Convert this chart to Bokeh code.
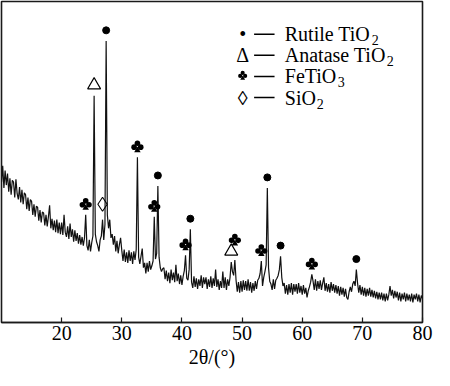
import numpy as np
from bokeh.plotting import figure
from bokeh.models import FixedTicker, Range1d
from bokeh.core.properties import value
from bokeh.embed import file_html
from bokeh.resources import INLINE

# ---------------- data ----------------
two_theta_start = 10.0
two_theta_step = 0.2
intensity = [
    146, 163, 140, 158, 143,   # 10
    155, 136, 150, 133, 148,   # 11
    146, 130, 149, 134, 128,   # 12
    141, 125, 138, 123, 135,   # 13
    133, 118, 130, 116, 128,   # 14
    126, 112, 123, 110, 121,   # 15
    120, 106, 117, 104, 115,   # 16
    114, 101, 112, 100, 110,   # 17
    122, 98, 108, 96, 106,     # 18
    94, 107, 93, 104, 92,      # 19
    104, 91, 112, 94, 89,      # 20
    100, 87, 103, 89, 97,      # 21
    84, 96, 85, 93, 82,        # 22
    91, 81, 89, 80, 88,        # 23
    112, 80, 75, 86, 74,       # 24
    83, 90, 236, 92, 84,       # 25
    80, 74, 86, 90, 107,       # 26
    86, 102, 293, 112, 98,     # 27
    107, 88, 92, 81, 90,       # 28
    74, 85, 72, 81, 88,        # 29
    75, 64, 76, 63, 73,        # 30
    62, 75, 64, 73, 61,        # 31
    74, 65, 76, 172, 68,       # 32
    61, 69, 77, 57, 62,        # 33
    51, 62, 53, 64, 55,        # 34
    59, 64, 110, 66, 72,       # 35
    142, 68, 57, 53, 56,       # 36
    57, 45, 54, 43, 52,        # 37
    41, 55, 44, 52, 42,        # 38
    60, 43, 51, 40, 49,        # 39
    39, 48, 54, 70, 46,        # 40
    44, 55, 97, 42, 36,        # 41
    48, 37, 46, 35, 45,        # 42
    38, 49, 36, 47, 40,        # 43
    47, 35, 45, 37, 48,        # 44
    36, 46, 38, 55, 37,        # 45
    45, 34, 43, 36, 53,        # 46
    36, 47, 34, 45, 38,        # 47
    47, 63, 53, 49, 65,        # 48
    44, 32, 42, 31, 43,        # 49
    32, 44, 34, 43, 33,        # 50
    45, 33, 42, 31, 41,        # 51
    33, 43, 35, 44, 46,        # 52
    51, 64, 38, 47, 53,        # 53
    60, 140, 57, 43, 40,       # 54
    34, 45, 35, 44, 46,        # 55
    49, 55, 69, 47, 38,        # 56
    41, 30, 39, 29, 40,        # 57
    31, 41, 29, 40, 32,        # 58
    40, 30, 41, 31, 38,        # 59
    29, 39, 30, 36, 26,        # 60
    33, 37, 42, 50, 43,        # 61
    34, 45, 33, 43, 35,        # 62
    44, 34, 41, 47, 33,        # 63
    41, 32, 40, 31, 42,        # 64
    33, 40, 31, 39, 30,        # 65
    38, 28, 37, 29, 36,        # 66
    27, 35, 26, 24, 32,        # 67
    37, 32, 40, 43, 38,        # 68
    55, 41, 31, 39, 29,        # 69
    37, 28, 36, 27, 35,        # 70
    28, 36, 27, 34, 26,        # 71
    33, 25, 32, 24, 31,        # 72
    24, 31, 23, 30, 22,        # 73
    30, 23, 29, 38, 28,        # 74
    34, 25, 33, 26, 32,        # 75
    23, 31, 22, 30, 24,        # 76
    31, 22, 30, 23, 29,        # 77
    22, 30, 21, 29, 24,        # 78
    30, 22, 29, 21, 28,        # 79
    25,                        # 80
]

rutile_peaks = [27.4, 36.0, 41.4, 54.2, 56.4, 69.0]
anatase_peaks = [25.4, 48.2]
fetio3_peaks = [24.0, 32.6, 35.4, 40.6, 48.8, 53.2, 61.6]
sio2_peaks = [26.8]

legend_symbols = ["\u2022", "\u0394", "", "\u25CA"]
legend_names = ["Rutile TiO", "Anatase TiO", "FeTiO", "SiO"]
legend_subs = ["2", "2", "3", "2"]

x_ticks = [20, 30, 40, 50, 60, 70, 80]
x_label = "2\u03B8/(\u00B0)"

# ---------------- figure ----------------
two_theta = np.round(two_theta_start + two_theta_step * np.arange(len(intensity)), 1)
inten = np.array(intensity, dtype=float)


def height_at(pos):
    return inten[int(round((pos - two_theta_start) / two_theta_step))]


SERIF = "Liberation Serif"
GAP = 11  # marker gap above peak top, data units

W, H = 434, 370
BL, BR, BT = 1, 12, 1
X0, X1, Y0, Y1 = 10, 80, 0, 334
FRAME_W = W - BL - BR
FRAME_H = 313
UX = (X1 - X0) / FRAME_W   # data units per screen px (x)
UY = (Y1 - Y0) / FRAME_H   # data units per screen px (y)

p = figure(width=W, height=H, output_backend="svg", toolbar_location=None,
           x_range=Range1d(X0, X1), y_range=Range1d(Y0, Y1))
p.min_border_left = BL
p.min_border_right = BR
p.min_border_top = BT
p.background_fill_color = "white"
p.border_fill_color = "white"
p.outline_line_color = "#1a1a1a"
p.outline_line_width = 1.6
p.grid.visible = False
p.yaxis.visible = False

ax = p.xaxis[0]
ax.ticker = FixedTicker(ticks=x_ticks)
ax.major_tick_in = 5
ax.major_tick_out = 0
ax.minor_tick_line_color = None
ax.axis_line_width = 1.6
ax.axis_line_color = "#1a1a1a"
ax.major_tick_line_width = 1.2
ax.major_tick_line_color = "#1a1a1a"
ax.major_label_text_font = SERIF
ax.major_label_text_font_size = "20px"
ax.major_label_text_color = "black"
ax.major_label_standoff = 3
ax.axis_label = x_label
ax.axis_label_text_font = SERIF
ax.axis_label_text_font_size = "20px"
ax.axis_label_text_font_style = "normal"
ax.axis_label_text_color = "black"
ax.axis_label_standoff = 3

# curve
p.line(two_theta, inten, line_color="#111111", line_width=1.2)


def draw_clubs(xs, ys, scale):
    """club symbol built from three discs and a stem (screen-px offsets)."""
    d = 5.6 * scale
    lobes = [(0.0, 3.3), (-3.3, -0.5), (3.3, -0.5)]
    for ox, oy in lobes:
        p.scatter([x + ox * scale * UX for x in xs], [y + oy * scale * UY for y in ys],
                  marker="circle", size=d, fill_color="black", line_color=None)
    p.scatter([x for x in xs], [y - 3.6 * scale * UY for y in ys],
              marker="triangle", size=6.5 * scale, fill_color="black", line_color=None)


# peak markers
ry = [height_at(v) + GAP for v in rutile_peaks]
p.scatter(rutile_peaks, ry, marker="circle", size=7, fill_color="black", line_color="black")

ay = [height_at(v) + GAP for v in anatase_peaks]
p.scatter(anatase_peaks, ay, marker="triangle", size=13, fill_color=None,
          line_color="black", line_width=1.1)

fy = []
for v in fetio3_peaks:
    lift = 10 if any(abs(v - a) < 1.0 for a in anatase_peaks) else 0
    fy.append(height_at(v) + GAP + lift)
draw_clubs(fetio3_peaks, fy, 1.0)

sy = [height_at(v) + GAP + 5 for v in sio2_peaks]
p.scatter(sio2_peaks, sy, marker="diamond", size=14, fill_color=None,
          line_color="black", line_width=1.1)

# legend (in plot coordinates)
legend_top = 300
legend_step = 22
sym_x = 50.1
dash_x0, dash_x1 = 52.0, 55.4
name_x = 57.1
rows_y = [legend_top - i * legend_step for i in range(len(legend_names))]
p.text([sym_x] * 4, rows_y, text=legend_symbols, text_font=value(SERIF),
       text_font_size="20px", text_align="center", text_baseline="middle",
       text_color="black")
draw_clubs([sym_x], [rows_y[2] + 1], 0.75)
p.segment(x0=[dash_x0] * 4, y0=rows_y, x1=[dash_x1] * 4, y1=rows_y,
          line_color="black", line_width=1.5)
p.text([name_x] * 4, rows_y, text=legend_names, text_font=value(SERIF),
       text_font_size="20px", text_align="left", text_baseline="middle",
       text_color="black")
sub_offsets = [87, 102, 53, 32]
p.text([name_x] * 4, rows_y, text=legend_subs, x_offset=sub_offsets, y_offset=6,
       text_font=value(SERIF), text_font_size="14px", text_align="left",
       text_baseline="middle", text_color="black")

open("out.html", "w").write(file_html(p, INLINE))
